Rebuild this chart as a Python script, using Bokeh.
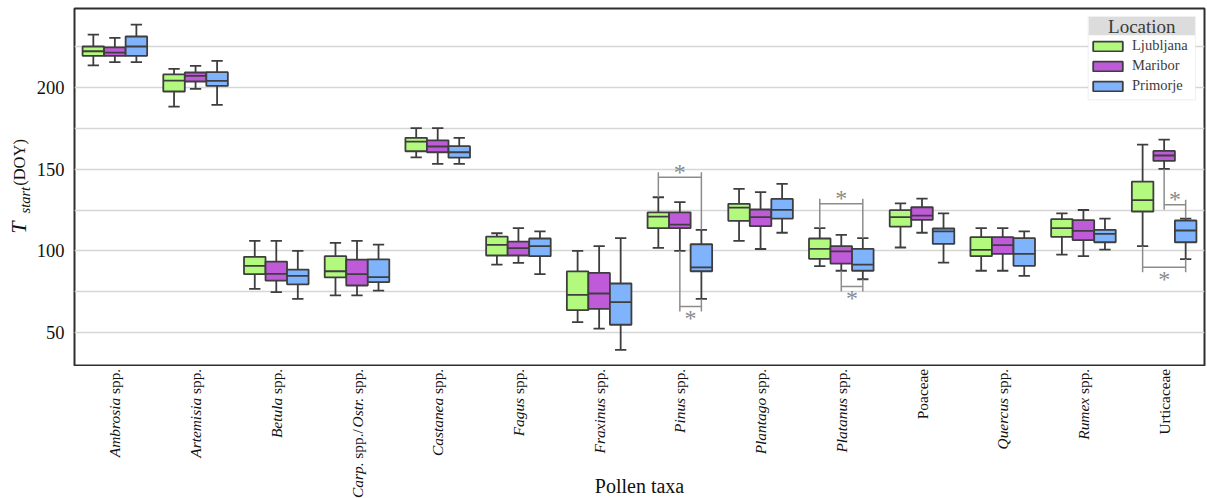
import math
from bokeh.plotting import figure
from bokeh.layouts import column, row
from bokeh.models import (FactorRange, Range1d, FixedTicker, Label, Legend, LegendItem,
                          BoxAnnotation, ColumnDataSource)
from bokeh.core.properties import value
from bokeh.embed import file_html
from bokeh.resources import INLINE

# ---------------- data ----------------
taxa = ["Ambrosia spp.", "Artemisia spp.", "Betula spp.", "Carp. spp./Ostr. spp.",
        "Castanea spp.", "Fagus spp.", "Fraxinus spp.", "Pinus spp.", "Plantago spp.",
        "Platanus spp.", "Poaceae", "Quercus spp.", "Rumex spp.", "Urticaceae"]
# tick label pieces: (text, italic)
taxa_label_parts = [
    [("Ambrosia", True), ("spp.", False)],
    [("Artemisia", True), ("spp.", False)],
    [("Betula", True), ("spp.", False)],
    [("Carp.", True), ("spp./", False), ("Ostr.", True), ("spp.", False)],
    [("Castanea", True), ("spp.", False)],
    [("Fagus", True), ("spp.", False)],
    [("Fraxinus", True), ("spp.", False)],
    [("Pinus", True), ("spp.", False)],
    [("Plantago", True), ("spp.", False)],
    [("Platanus", True), ("spp.", False)],
    [("Poaceae", False)],
    [("Quercus", True), ("spp.", False)],
    [("Rumex", True), ("spp.", False)],
    [("Urticaceae", False)],
]
locations = ["Ljubljana", "Maribor", "Primorje"]
loc_colors = ["#b3f97e", "#bf5bd8", "#7fb3fc"]

lj_low  = [213.3, 188.2, 76.8, 72.8, 157.2, 91.7, 56.5, 101.9, 106.2, 90.7, 102.1, 87.9, 97.8, 102.9]
lj_q1   = [219.2, 197.4, 85.8, 83.8, 160.9, 97.2, 63.8, 113.9, 118.4, 95.2, 114.9, 96.8, 108.6, 124.1]
lj_med  = [222.0, 204.1, 90.9, 87.6, 166.8, 103.7, 73.2, 121.0, 126.5, 101.3, 120.6, 100.7, 113.9, 131.0]
lj_q3   = [224.9, 207.8, 96.4, 96.8, 169.1, 108.8, 87.5, 123.5, 128.8, 107.6, 124.9, 108.4, 119.4, 142.4]
lj_high = [232.2, 211.2, 106.2, 104.9, 175.0, 110.8, 100.1, 132.8, 137.9, 113.9, 129.1, 113.9, 123.0, 165.0]

mb_low  = [215.3, 199.0, 74.8, 72.8, 153.2, 92.7, 52.6, 100.1, 101.2, 87.9, 111.1, 87.9, 96.8, 150.1]
mb_q1   = [219.2, 203.5, 81.9, 78.9, 160.3, 97.2, 64.6, 113.9, 115.1, 92.3, 119.0, 98.2, 106.6, 155.0]
mb_med  = [221.2, 207.0, 86.0, 85.8, 163.8, 101.7, 74.0, 116.1, 120.6, 99.7, 121.6, 103.5, 112.3, 158.3]
mb_q3   = [224.4, 209.0, 93.5, 94.7, 167.6, 105.7, 86.6, 123.6, 125.3, 102.9, 126.7, 108.4, 118.8, 161.1]
mb_high = [230.2, 213.0, 106.2, 106.2, 175.0, 113.9, 102.9, 129.8, 135.9, 109.8, 132.0, 113.9, 125.0, 168.0]

pr_low  = [215.3, 189.2, 70.7, 75.8, 153.2, 85.8, 39.6, 70.7, 111.1, 82.7, 92.9, 84.8, 100.8, 95.0]
pr_q1   = [219.2, 200.8, 79.6, 81.0, 157.0, 96.8, 54.9, 87.6, 119.8, 87.9, 104.3, 90.9, 105.3, 105.3]
pr_med  = [224.9, 203.9, 84.8, 84.0, 160.3, 102.9, 68.7, 90.0, 125.1, 91.7, 112.0, 98.2, 110.4, 112.5]
pr_q3   = [231.0, 209.2, 88.6, 94.9, 164.0, 107.6, 80.1, 104.1, 131.8, 101.3, 113.7, 107.8, 112.9, 118.6]
pr_high = [238.3, 216.1, 100.1, 103.9, 169.1, 111.9, 107.8, 112.9, 141.0, 107.8, 123.0, 111.9, 119.8, 119.8]

stats = {
    "Ljubljana": (lj_low, lj_q1, lj_med, lj_q3, lj_high),
    "Maribor": (mb_low, mb_q1, mb_med, mb_q3, mb_high),
    "Primorje": (pr_low, pr_q1, pr_med, pr_q3, pr_high),
}

# significance brackets
sig_taxon = ["Pinus spp.", "Pinus spp.", "Platanus spp.", "Platanus spp.", "Urticaceae", "Urticaceae"]
sig_a     = ["Ljubljana", "Maribor", "Ljubljana", "Maribor", "Maribor", "Ljubljana"]
sig_b     = ["Primorje", "Primorje", "Primorje", "Primorje", "Primorje", "Primorje"]
sig_level = [145.0, 66.0, 128.8, 78.3, 128.2, 90.0]
sig_side  = ["above", "below", "above", "below", "above", "below"]

y_ticks = [50, 100, 150, 200]
y_grid = [50, 75, 100, 125, 150, 175, 200, 225]

# ---------------- layout ----------------
SERIF = "Liberation Serif"
TXT = "#111111"
W, H = 1207, 498
LEFT_W = 32               # strip for the y-axis title
ML, MR, MT, MB = 42, 3, 8, 1
FH = 357
TOP_H = MT + FH + MB      # 366
BOT_H = H - TOP_H         # 132
MAIN_W = W - LEFT_W
FW = MAIN_W - ML - MR     # 1130
PPU_Y = 1.637
Y1 = 248.1
Y0 = Y1 - FH / PPU_Y
PPU_X = FW / len(taxa)
EDGE = "#3e3e3e"
LW = 1.8
BW = 0.8 / 3
CAPW = 0.14

x_range = FactorRange(*taxa)
y_range = Range1d(Y0, Y1)

p = figure(width=MAIN_W, height=TOP_H, x_range=x_range, y_range=y_range,
           output_backend="svg", toolbar_location=None,
           min_border_left=ML, min_border_right=MR, min_border_top=MT, min_border_bottom=MB)
p.background_fill_color = "white"
p.border_fill_color = "white"
p.outline_line_color = "#2e2e2e"
p.outline_line_width = 2
p.xaxis.visible = False
p.xgrid.visible = False
p.ygrid.ticker = FixedTicker(ticks=y_grid)
p.ygrid.grid_line_color = "#d6d6d6"
p.ygrid.grid_line_width = 1.5
p.yaxis.ticker = FixedTicker(ticks=y_ticks)
p.yaxis.axis_line_color = None
p.yaxis.major_tick_line_color = None
p.yaxis.minor_tick_line_color = None
p.yaxis.major_label_text_font = SERIF
p.yaxis.major_label_text_font_size = "18.5px"
p.yaxis.major_label_text_color = TXT
p.yaxis.major_label_standoff = 4

offsets = {loc: (j - 1) * BW for j, loc in enumerate(locations)}
vbar_renderers = {}
for loc, color in zip(locations, loc_colors):
    low, q1, med, q3, high = stats[loc]
    xs = [i + 0.5 + offsets[loc] for i in range(len(taxa))]
    src = ColumnDataSource(dict(
        x=xs, low=low, q1=q1, med=med, q3=q3, high=high,
        c0=[x - CAPW / 2 for x in xs], c1=[x + CAPW / 2 for x in xs],
        b0=[x - BW / 2 for x in xs], b1=[x + BW / 2 for x in xs]))
    p.segment(x0="x", y0="q3", x1="x", y1="high", source=src, line_color=EDGE, line_width=LW)
    p.segment(x0="x", y0="q1", x1="x", y1="low", source=src, line_color=EDGE, line_width=LW)
    p.segment(x0="c0", y0="high", x1="c1", y1="high", source=src, line_color=EDGE, line_width=LW)
    p.segment(x0="c0", y0="low", x1="c1", y1="low", source=src, line_color=EDGE, line_width=LW)
    r = p.vbar(x="x", width=BW, bottom="q1", top="q3", source=src,
               fill_color=color, line_color=EDGE, line_width=LW)
    p.segment(x0="b0", y0="med", x1="b1", y1="med", source=src, line_color=EDGE, line_width=LW)
    vbar_renderers[loc] = r

# significance brackets
EXT = 5 / PPU_Y
bx0, by0, bx1, by1 = [], [], [], []
ax, ay = [], []
for t, a, b, L, side in zip(sig_taxon, sig_a, sig_b, sig_level, sig_side):
    i = taxa.index(t)
    xa = i + 0.5 + offsets[a]
    xb = i + 0.5 + offsets[b]
    for loc, xx in ((a, xa), (b, xb)):
        low, q1, med, q3, high = stats[loc]
        end = high[i] if L > high[i] else low[i]
        d = 1 if L > end else -1
        bx0.append(xx); by0.append(end); bx1.append(xx); by1.append(L + d * EXT)
    bx0.append(xa); by0.append(L); bx1.append(xb); by1.append(L)
    ax.append((xa + xb) / 2)
    ay.append(L + (5.5 / PPU_Y if side == "above" else -11.5 / PPU_Y))
p.segment(x0=bx0, y0=by0, x1=bx1, y1=by1, line_color="#8c8c8c", line_width=1.5)
p.text(x=ax, y=ay, text=["*"] * len(ax), text_font=value(SERIF), text_font_size="24px",
       text_color="#8a8a8a", text_align="center", text_baseline="middle")

# legend frame + title band (positions in px from the frame's top-left)
def xl(px_from_left):
    return px_from_left / PPU_X

def yt(px_from_top):
    return Y1 - px_from_top / PPU_Y

p.add_layout(BoxAnnotation(left=xl(1013.7), right=xl(1121), top=yt(8), bottom=yt(91.3),
                           fill_color="white", fill_alpha=1, line_color="#d2d2d2", line_width=1.2))
p.add_layout(BoxAnnotation(left=xl(1014.3), right=xl(1120.4), top=yt(8.6), bottom=yt(26.7),
                           fill_color="#dcdcdc", fill_alpha=1, line_color=None))
p.add_layout(Label(x=(xl(1013.7) + xl(1121)) / 2, y=yt(17.5), text="Location", text_align="center",
                   text_baseline="middle", text_font=SERIF, text_font_size="19px",
                   text_color="#3a3a3a"))

legend = Legend(items=[LegendItem(label=loc, renderers=[vbar_renderers[loc]]) for loc in locations],
                location=(1015, 271), orientation="vertical", padding=0, spacing=3,
                glyph_width=37, glyph_height=12, label_height=17, label_standoff=6,
                label_text_font=SERIF, label_text_font_size="14.5px", label_text_color="#3c3c3c",
                border_line_color=None, background_fill_alpha=0, margin=0)
p.add_layout(legend)

# ---------------- y-axis title strip ----------------
left = figure(width=LEFT_W, height=TOP_H, x_range=Range1d(0, LEFT_W), y_range=y_range,
              output_backend="svg", toolbar_location=None,
              min_border_left=0, min_border_right=0, min_border_top=MT, min_border_bottom=MB)
left.axis.visible = False
left.grid.visible = False
left.outline_line_color = None

def yv(scr_y):
    return Y1 - (scr_y - MT) / PPU_Y

left.text(x=[18.4], y=[yv(233.3)], text=["T"], angle=math.pi / 2, text_align="left",
          text_baseline="middle", text_font=value(SERIF), text_font_size="22px",
          text_font_style="italic", text_color=TXT)
left.text(x=[24.2], y=[yv(213.0)], text=["start"], angle=math.pi / 2, text_align="left",
          text_baseline="middle", text_font=value(SERIF), text_font_size="14.5px",
          text_font_style="italic", text_color=TXT)
left.text(x=[19.2], y=[yv(185.3)], text=["(DOY)"], angle=math.pi / 2, text_align="left",
          text_baseline="middle", text_font=value(SERIF), text_font_size="16.5px",
          text_color=TXT)

# ---------------- x tick labels + x title strip ----------------
bot = figure(width=W, height=BOT_H, x_range=x_range, y_range=Range1d(0, BOT_H),
             output_backend="svg", toolbar_location=None,
             min_border_left=LEFT_W + ML, min_border_right=MR, min_border_top=0, min_border_bottom=0)
bot.axis.visible = False
bot.grid.visible = False
bot.outline_line_color = None

space_w = 0.25
reg_w = {"spp.": 1.639, "spp./": 1.917}
ital_w = {"Ostr.": 2.028}
TICK_FS = 15.4
top_y = BOT_H - 2.3
it = dict(x=[], y=[], text=[])
rg = dict(x=[], y=[], text=[])
for t, parts in zip(taxa, taxa_label_parts):
    cursor = 0.0
    for txt, ital in reversed(parts):
        d = it if ital else rg
        d["x"].append(t); d["y"].append(top_y - cursor); d["text"].append(txt)
        if ital:
            cursor += ital_w.get(txt, 0) * TICK_FS
        else:
            cursor += (reg_w.get(txt, 0) + space_w) * TICK_FS
for d, style in ((it, "italic"), (rg, "normal")):
    bot.text(x="x", y="y", text="text", source=ColumnDataSource(d), angle=math.pi / 2,
             text_align="right", text_baseline="middle", text_font=value(SERIF),
             text_font_size=f"{TICK_FS}px", text_font_style=style, text_color=TXT)

bot.text(x=[len(taxa) / 2], y=[BOT_H - (485.5 - TOP_H)], text=["Pollen taxa"],
         text_align="center", text_baseline="alphabetic", text_font=value(SERIF),
         text_font_size="20px", text_color=TXT)

layout = column(row(left, p, spacing=0), bot, spacing=0)
open("out.html", "w").write(file_html(layout, INLINE))
